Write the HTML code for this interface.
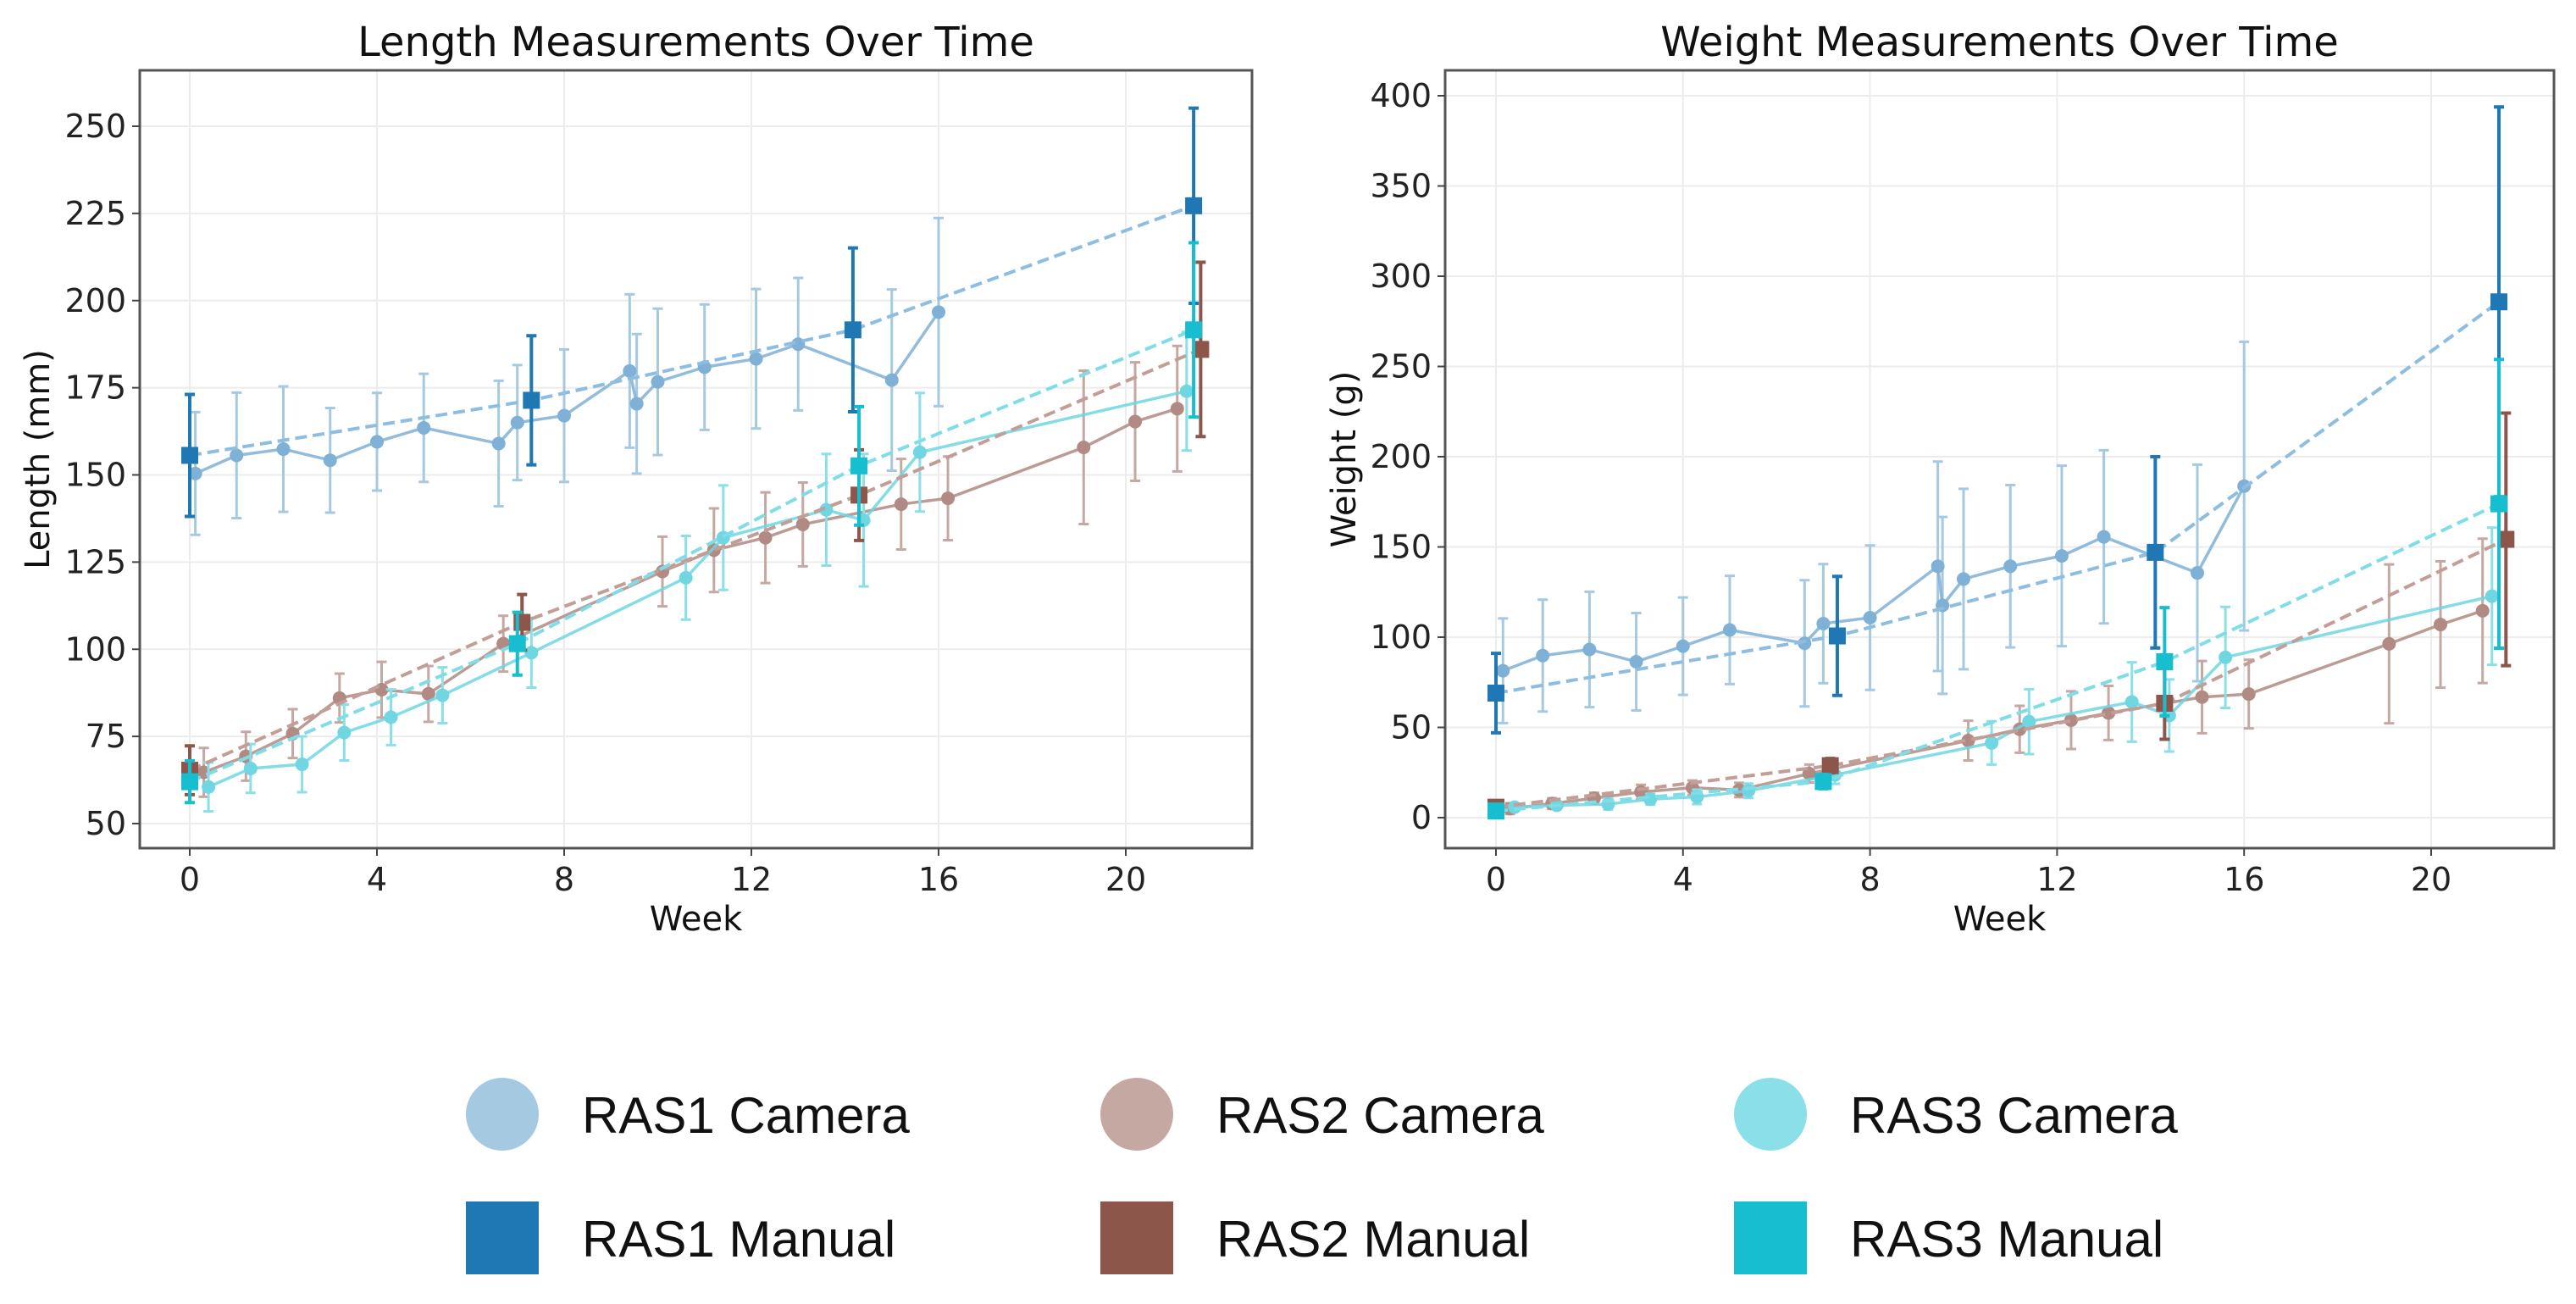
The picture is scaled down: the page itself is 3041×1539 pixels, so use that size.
<!DOCTYPE html>
<html><head><meta charset="utf-8"><style>
html,body{margin:0;padding:0;background:#fff;}
svg{display:block;font-family:"DejaVu Sans","Liberation Sans",sans-serif;}
</style></head><body>
<svg id="chart" width="3041" height="1539" viewBox="0 0 3041 1539" xmlns="http://www.w3.org/2000/svg"></svg>
<script>
// ---------- data ----------
const xTicks = [0, 4, 8, 12, 16, 20];
const lenTicks = [50, 75, 100, 125, 150, 175, 200, 225, 250];
const wTicks = [0, 50, 100, 150, 200, 250, 300, 350, 400];
const seriesNames = ["RAS1", "RAS2", "RAS3"];

// Length — camera
const len1CamW = [0.12,1,2,3,4,5,6.6,7,8,9.4,9.55,10,11,12.1,13,15,16];
const len1CamV = [150.4,155.6,157.4,154.2,159.5,163.5,159,165,167,179.8,170.4,176.7,180.9,183.3,187.5,177.2,196.7];
const len1CamE = [17.6,18,18,15,14,15.5,18,16.5,19,22,20,21,18,20,19,26,27];
const len2CamW = [0.3,1.2,2.2,3.2,4.1,5.1,6.7,10.1,11.2,12.3,13.1,15.2,16.2,19.1,20.2,21.1];
const len2CamV = [64.7,69.3,75.8,86,88.4,87.2,101.6,122.3,128.4,132,135.8,141.6,143.3,157.9,165.3,169];
const len2CamE = [7,7,7,7,8,8,8,10,12,13,12,13,12,22,17,18];
const len3CamW = [0.4,1.3,2.4,3.3,4.3,5.4,7.3,10.6,11.4,13.6,14.4,15.6,21.3];
const len3CamV = [60.5,65.8,67,76.1,80.5,86.8,99,120.5,132,140,137,156.5,174];
const len3CamE = [7,7,8,8,8,8,10,12,15,16,19,17,17];
// Length — manual
const len1ManW = [0,7.3,14.17,21.45];
const len1ManV = [155.6,171.4,191.6,227.2];
const len1ManE = [17.5,18.5,23.5,28];
const len2ManW = [0,7.1,14.3,21.6];
const len2ManV = [65.3,107.7,144.2,186];
const len2ManE = [7,8,13,25];
const len3ManW = [0,7,14.3,21.45];
const len3ManV = [62,101.6,152.6,191.6];
const len3ManE = [6,9,17,25];

// Weight — camera
const w1CamW = [0.15,1,2,3,4,5,6.6,7,8,9.45,9.55,10,11,12.1,13,15,16];
const w1CamV = [81.4,89.8,93.2,86.4,95,104,96.6,107.5,110.8,139.3,117.6,132.2,139.3,145,155.6,135.6,183.7];
const w1CamE = [29,31,32,27,27,30,35,33,40,58,49,50,45,50,48,60,80];
const w2CamW = [0.3,1.2,2.1,3.1,4.2,5.2,6.7,10.1,11.2,12.3,13.1,15.1,16.1,19.1,20.2,21.1];
const w2CamV = [5,7.8,10.8,14.2,16.6,15.3,24.4,42.7,49,54,58,66.8,68.5,96.3,107,114.6];
const w2CamE = [3,3,3,4,4,4,5,11,13,16,15,20,19,44,35,40];
const w3CamW = [0.4,1.3,2.4,3.3,4.3,5.4,7.25,10.6,11.4,13.6,14.4,15.6,21.3];
const w3CamV = [5.8,6.8,7.5,10.2,11.5,14.9,23.7,41.4,53.2,64.1,56.6,88.8,122.7];
const w3CamE = [2,2,3,3,4,4,5,12,18,22,20,28,38];
// Weight — manual
const w1ManW = [0,7.3,14.1,21.45];
const w1ManV = [69,100.7,147,285.8];
const w1ManE = [22,33,53,108];
const w2ManW = [0,7.15,14.3,21.6];
const w2ManV = [5.8,28.8,63.4,154.2];
const w2ManE = [2,4,20,70];
const w3ManW = [0,7,14.3,21.45];
const w3ManV = [3.7,20,86.4,173.9];
const w3ManE = [2,4,30,80];

// ---------- drawing ----------
const NS = "http://www.w3.org/2000/svg";
const svg = document.getElementById("chart");
function mk(tag, attrs, parent) {
  const e = document.createElementNS(NS, tag);
  for (const k in attrs) e.setAttribute(k, attrs[k]);
  (parent || svg).appendChild(e);
  return e;
}
const camCol = ["#a6c9e2", "#c6a8a2", "#8adfe8"];
const camLine = ["#7fb0d6", "#b08a83", "#6fd6e2"];
const manCol = ["#1f77b4", "#8c564b", "#17becf"];
const manLine = ["#8dbde0", "#c29e96", "#7fdde8"];

function panel(cfg) {
  const g = mk("g", {});
  
  
  const xs = w => cfg.x0 + (w - 0) * (cfg.x20 - cfg.x0) / 20;
  const ys = v => cfg.yb + (v - cfg.vb) * (cfg.yt - cfg.yb) / (cfg.vt - cfg.vb);
  cfg.yTicks.forEach(t => {
    const l = mk("line", {x1: cfg.L, x2: cfg.R, y1: ys(t), y2: ys(t), stroke: "#ececec", "stroke-width": 2}, g);
    
    
  });
  xTicks.forEach(t => {
    const l = mk("line", {x1: xs(t), x2: xs(t), y1: cfg.T, y2: cfg.B, stroke: "#ececec", "stroke-width": 2}, g);
    
    
  });
  function camera(W, V, E, i) {
    const s = mk("g", {}, g);
    
    
    W.forEach((w, k) => {
      const x = xs(w);
      const eb = mk("path", {d: `M${x},${ys(V[k]-E[k])}V${ys(V[k]+E[k])}M${x-6},${ys(V[k]-E[k])}h12M${x-6},${ys(V[k]+E[k])}h12`, stroke: camCol[i], "stroke-width": 3, fill: "none"}, s);
      
      
    });
    const pl = mk("polyline", {points: W.map((w, k) => xs(w) + "," + ys(V[k])).join(" "), stroke: camLine[i], "stroke-width": 3.5, fill: "none", opacity: 0.85}, s);
    
    
    W.forEach((w, k) => {
      const c = mk("circle", {cx: xs(w), cy: ys(V[k]), r: 8, fill: camLine[i]}, s);
      
      
    });
  }
  function manual(W, V, E, i) {
    const s = mk("g", {}, g);
    
    
    const pl = mk("polyline", {points: W.map((w, k) => xs(w) + "," + ys(V[k])).join(" "), stroke: manLine[i], "stroke-width": 4, "stroke-dasharray": "14,7", fill: "none"}, s);
    
    
    W.forEach((w, k) => {
      const x = xs(w);
      const eb = mk("path", {d: `M${x},${ys(V[k]-E[k])}V${ys(V[k]+E[k])}M${x-6},${ys(V[k]-E[k])}h12M${x-6},${ys(V[k]+E[k])}h12`, stroke: manCol[i], "stroke-width": 4, fill: "none"}, s);
      
      
      const r = mk("rect", {x: x - 10, y: ys(V[k]) - 10, width: 20, height: 20, fill: manCol[i]}, s);
      
      
    });
  }
  cfg.cam.forEach((c, i) => camera(c[0], c[1], c[2], i));
  cfg.man.forEach((c, i) => manual(c[0], c[1], c[2], i));
  const fr = mk("rect", {x: cfg.L, y: cfg.T, width: cfg.R - cfg.L, height: cfg.B - cfg.T, fill: "none", stroke: "#555", "stroke-width": 3}, g);
  
  
  cfg.yTicks.forEach(t => {
    mk("line", {x1: cfg.L - 9, x2: cfg.L, y1: ys(t), y2: ys(t), stroke: "#444", "stroke-width": 2}, g);
    const tx = mk("text", {x: cfg.L - 16, y: ys(t) + 13, "text-anchor": "end", "font-size": 38, fill: "#222"}, g);
    tx.textContent = t;
    
    
  });
  xTicks.forEach(t => {
    mk("line", {x1: xs(t), x2: xs(t), y1: cfg.B, y2: cfg.B + 9, stroke: "#444", "stroke-width": 2}, g);
    const tx = mk("text", {x: xs(t), y: cfg.B + 50, "text-anchor": "middle", "font-size": 38, fill: "#222"}, g);
    tx.textContent = t;
    
    
  });
  const xl = mk("text", {x: (cfg.L + cfg.R) / 2, y: cfg.B + 97, "text-anchor": "middle", "font-size": 40, fill: "#111"}, g);
  xl.textContent = "Week";
  
  
  const yl = mk("text", {x: 0, y: 0, "text-anchor": "middle", "font-size": 40, fill: "#111", transform: `translate(${cfg.ylx},${(cfg.T + cfg.B) / 2}) rotate(-90)`}, g);
  yl.textContent = cfg.ylabel;
  
  
  const tl = mk("text", {x: (cfg.L + cfg.R) / 2, y: 66, "text-anchor": "middle", "font-size": 48, fill: "#111"}, g);
  tl.textContent = cfg.title;
  
  
}

panel({name: "length-panel", L: 165, R: 1478, T: 83, B: 1001, x0: 224, x20: 1329, yb: 972, vb: 50, yt: 149, vt: 250,
  yTicks: lenTicks, ylabel: "Length (mm)", ylx: 58, title: "Length Measurements Over Time",
  cam: [[len1CamW, len1CamV, len1CamE], [len2CamW, len2CamV, len2CamE], [len3CamW, len3CamV, len3CamE]],
  man: [[len1ManW, len1ManV, len1ManE], [len2ManW, len2ManV, len2ManE], [len3ManW, len3ManV, len3ManE]]});
panel({name: "weight-panel", L: 1706, R: 3015, T: 83, B: 1001, x0: 1766, x20: 2870, yb: 965, vb: 0, yt: 113, vt: 400,
  yTicks: wTicks, ylabel: "Weight (g)", ylx: 1600, title: "Weight Measurements Over Time",
  cam: [[w1CamW, w1CamV, w1CamE], [w2CamW, w2CamV, w2CamE], [w3CamW, w3CamV, w3CamE]],
  man: [[w1ManW, w1ManV, w1ManE], [w2ManW, w2ManV, w2ManE], [w3ManW, w3ManV, w3ManE]]});

const lg = mk("g", {});


const legX = [593, 1342, 2090];
seriesNames.forEach((n, i) => {
  const c = mk("ellipse", {cx: legX[i], cy: 1315, rx: 43, ry: 43, fill: camCol[i]}, lg);
  
  
  const t1 = mk("text", {x: legX[i] + 94, y: 1337, "font-size": 60, fill: "#111", "font-family": "Liberation Sans, sans-serif"}, lg);
  t1.textContent = n + " Camera";
  
  
  const r = mk("rect", {x: legX[i] - 43, y: 1418, width: 86, height: 86, fill: manCol[i]}, lg);
  
  
  const t2 = mk("text", {x: legX[i] + 94, y: 1483, "font-size": 60, fill: "#111", "font-family": "Liberation Sans, sans-serif"}, lg);
  t2.textContent = n + " Manual";
  
  
});
</script>
</body></html>
